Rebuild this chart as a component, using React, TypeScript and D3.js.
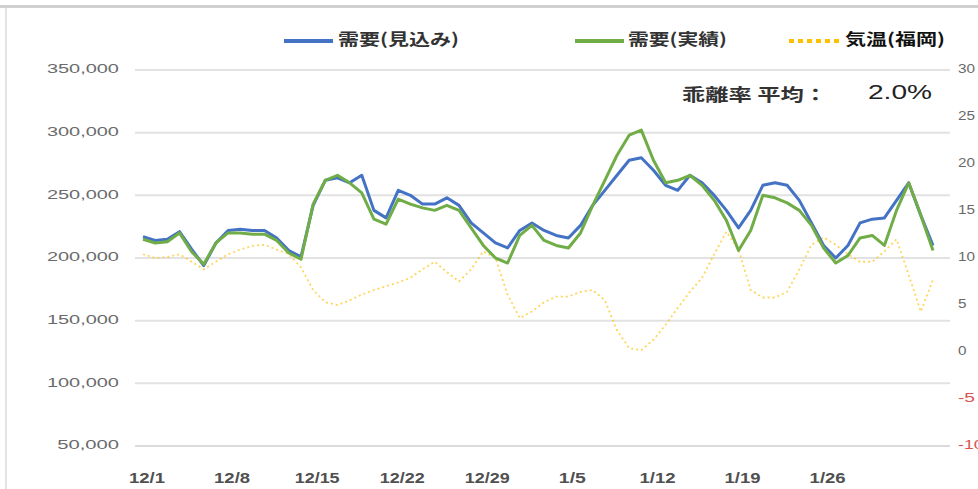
import React from "react";
import * as d3 from "d3";

// Daily demand, forecast (見込み), in kW
const demandForecast = [
  217000, 214000, 215000, 221000, 207000, 194000, 212000, 222000, 223000, 222000,
  222000, 216000, 206000, 201000, 242000, 262000, 264000, 260000, 266000, 238000,
  232000, 254000, 250000, 243000, 243000, 248000, 242000, 228000, 220000, 212000,
  208000, 222000, 228000, 222000, 218000, 216000, 226000, 242000, 254000, 266000,
  278000, 280000, 270000, 258000, 254000, 266000, 260000, 250000, 238000, 224000,
  238000, 258000, 260000, 258000, 246000, 228000, 210000, 200000, 210000, 228000,
  231000, 232000, 246000, 260000, 234000, 210000,
];
// Daily demand, actual (実績)
const demandActual = [
  215000, 212000, 213000, 220000, 205000, 195000, 212000, 220000, 220000, 219000,
  219000, 214000, 204000, 199000, 243000, 262000, 266000, 260000, 252000, 231000,
  227000, 247000, 243000, 240000, 238000, 242000, 238000, 224000, 210000, 200000,
  196000, 218000, 226000, 214000, 210000, 208000, 220000, 242000, 262000, 282000,
  298000, 302000, 278000, 260000, 262000, 266000, 258000, 246000, 230000, 206000,
  222000, 250000, 248000, 244000, 238000, 226000, 208000, 196000, 202000, 216000,
  218000, 210000, 238000, 260000, 234000, 206000,
];
// Temperature, Fukuoka (気温), °C
const temperature = [
  10.4, 10.0, 10.1, 10.4, 9.6, 8.8, 9.6, 10.4, 10.9, 11.3,
  11.4, 10.9, 10.4, 9.0, 6.6, 5.3, 5.0, 5.5, 6.1, 6.6,
  7.0, 7.4, 7.9, 8.8, 9.6, 8.5, 7.5, 8.8, 10.7, 10.0,
  6.1, 3.6, 4.3, 5.3, 5.9, 5.9, 6.4, 6.6, 5.5, 2.3,
  0.4, 0.2, 1.3, 2.9, 4.7, 6.4, 7.9, 10.4, 12.8, 10.9,
  6.6, 5.8, 5.8, 6.4, 8.8, 11.4, 12.2, 11.4, 10.4, 9.6,
  9.6, 10.7, 12.0, 8.2, 4.3, 7.7,
];
const xTickLabels = ["12/1", "12/8", "12/15", "12/22", "12/29", "1/5", "1/12", "1/19", "1/26"];
const leftTicks = [50000, 100000, 150000, 200000, 250000, 300000, 350000];
const rightTicks = [-10, -5, 0, 5, 10, 15, 20, 25, 30];
const seriesNames = ["需要(見込み)", "需要(実績)", "気温(福岡)"];
const deviationLabel = "乖離率 平均：";
const deviationValue = "2.0%";

const W = 978;
const H = 489;
const JP = "'Noto Sans CJK JP', 'Noto Sans', sans-serif";
const LAT = "'Liberation Sans', Arial, sans-serif";

export default function App() {
  const n = demandForecast.length;
  const x = d3.scaleLinear().domain([0, n - 1]).range([143, 933]);
  const yL = d3.scaleLinear().domain([50000, 350000]).range([446, 70]);
  const yR = d3.scaleLinear().domain([-10, 30]).range([446, 70]);
  const lineL = d3
    .line<number>()
    .x((_, i) => x(i))
    .y((d) => yL(d));
  const lineR = d3
    .line<number>()
    .x((_, i) => x(i))
    .y((d) => yR(d));
  const fmt = d3.format(",");

  return (
    <svg
      width={W}
      height={H}
      style={{ position: "absolute", left: 0, top: 0, background: "#fff" }}
      fontFamily={JP}
    >
      <rect x={0} y={0} width={W} height={H} fill="#fff" />
      {/* outer frame */}
      <line x1={0} x2={W} y1={6.5} y2={6.5} stroke="#d0d0d0" strokeWidth={3} />
      <line x1={6} x2={6} y1={8} y2={H} stroke="#e4e4e4" strokeWidth={2} />

      {/* gridlines */}
      {leftTicks.map((t) => (
        <line
          key={t}
          x1={135}
          x2={950}
          y1={yL(t)}
          y2={yL(t)}
          stroke={t === 50000 ? "#cfcfcf" : "#e2e2e2"}
          strokeWidth={t === 50000 ? 1.5 : 2}
        />
      ))}

      {/* left axis labels */}
      {leftTicks.map((t) => {
        const s = fmt(t);
        return (
          <text
            key={t}
            x={119}
            y={yL(t)}
            textAnchor="end"
            dominantBaseline="middle"
            fontSize={12}
            fill="#6a6a6a"
            fontFamily={LAT}
            textLength={s.length * 10.3}
            lengthAdjust="spacingAndGlyphs"
          >
            {s}
          </text>
        );
      })}

      {/* right axis labels */}
      {rightTicks.map((t) => {
        const s = String(t);
        return (
          <text
            key={t}
            x={958}
            y={yR(t)}
            dominantBaseline="middle"
            fontSize={12}
            fill={t < 0 ? "#d9534f" : "#6a6a6a"}
            fontFamily={LAT}
            textLength={s.length * 8.5}
            lengthAdjust="spacingAndGlyphs"
          >
            {s}
          </text>
        );
      })}

      {/* x labels */}
      {xTickLabels.map((lab, k) => (
        <text
          key={lab}
          x={x(k * 7) + 4}
          y={479}
          textAnchor="middle"
          dominantBaseline="middle"
          fontSize={14}
          fontWeight="bold"
          fill="#505050"
          fontFamily={LAT}
          textLength={lab.length * 9}
          lengthAdjust="spacingAndGlyphs"
        >
          {lab}
        </text>
      ))}

      {/* temperature */}
      <path
        d={lineR(temperature) || ""}
        fill="none"
        stroke="#FFC000"
        strokeOpacity={0.65}
        strokeWidth={1.8}
        strokeDasharray="2 3"
      />
      {/* demand lines */}
      <path d={lineL(demandForecast) || ""} fill="none" stroke="#4472C4" strokeWidth={3} strokeLinejoin="round" />
      <path d={lineL(demandActual) || ""} fill="none" stroke="#70AD47" strokeWidth={3} strokeLinejoin="round" />

      {/* legend */}
      <g fontSize={16} fontWeight="bold">
        <line x1={284} x2={333} y1={41} y2={41} stroke="#4472C4" strokeWidth={4} />
        <text x={338} y={41} dominantBaseline="middle" fill="#333" textLength={121} lengthAdjust="spacingAndGlyphs">
          {seriesNames[0]}
        </text>
        <line x1={575} x2={624} y1={41} y2={41} stroke="#70AD47" strokeWidth={4} />
        <text x={628} y={41} dominantBaseline="middle" fill="#333" textLength={99} lengthAdjust="spacingAndGlyphs">
          {seriesNames[1]}
        </text>
        <line x1={789} x2={839} y1={41} y2={41} stroke="#FFC000" strokeWidth={4} strokeDasharray="5 4" />
        <text x={845} y={41} dominantBaseline="middle" fill="#111" textLength={100} lengthAdjust="spacingAndGlyphs">
          {seriesNames[2]}
        </text>
      </g>

      {/* deviation */}
      <text
        x={682}
        y={96}
        dominantBaseline="middle"
        fontSize={17}
        fontWeight="bold"
        fill="#333"
        textLength={145}
        lengthAdjust="spacingAndGlyphs"
      >
        {deviationLabel}
      </text>
      <text
        x={868}
        y={94}
        dominantBaseline="middle"
        fontSize={20}
        fill="#222"
        fontFamily={LAT}
        textLength={64}
        lengthAdjust="spacingAndGlyphs"
      >
        {deviationValue}
      </text>
    </svg>
  );
}
